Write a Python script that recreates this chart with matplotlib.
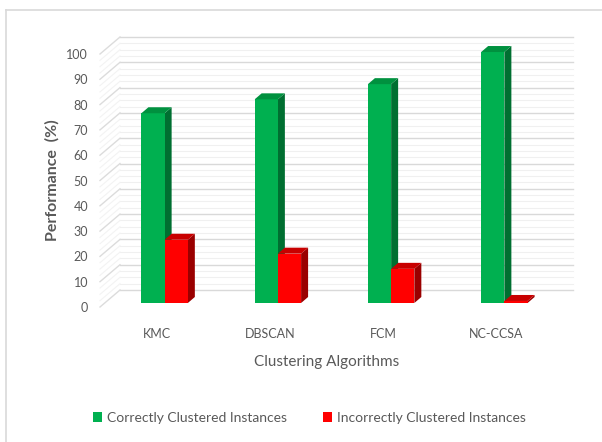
import matplotlib.pyplot as plt
from matplotlib.patches import Polygon, Patch
from matplotlib.lines import Line2D

algorithms = ['KMC', 'DBSCAN', 'FCM', 'NC-CCSA']
correct = [75, 80.5, 86.5, 99.2]
incorrect = [25, 19.5, 13.5, 0.8]
series_names = ['Correctly Clustered Instances', 'Incorrectly Clustered Instances']
y_ticks = list(range(0, 101, 10))

# face colours: front, top, side
greens = ('#00b050', '#00913f', '#006f31')
reds = ('#ff0000', '#c80000', '#9a0000')

plt.rcParams['font.family'] = ['Lato', 'DejaVu Sans']

W, H = 602, 442
fig = plt.figure(figsize=(W / 100, H / 100), dpi=100)

# figure border (only top and left edges visible in the original)
fig.add_artist(Line2D([6 / W, 1], [1 - 10 / H, 1 - 10 / H], transform=fig.transFigure, color='#d9d9d9', lw=1.2))
fig.add_artist(Line2D([6 / W, 6 / W], [0, 1 - 10 / H], transform=fig.transFigure, color='#d9d9d9', lw=1.2))

ax_w, ax_h = 453, 253
ax = fig.add_axes([100 / W, 1 - 307 / H, ax_w / W, ax_h / H])
ax.set_xlim(0, len(algorithms))
ax.set_ylim(0, 100)
ux = len(algorithms) / ax_w   # data units per pixel
uy = 100 / ax_h

# wall depth
DX, DY = 20 * ux, 17 * uy
n = len(algorithms)

# minor texture lines
for t in [v * 2.5 for v in range(41)]:
    if t % 10:
        ax.plot([DX, n + DX], [t + DY, t + DY], color='#f0f0f0', lw=0.8, clip_on=False, zorder=1)
        ax.plot([0, DX], [t, t + DY], color='#f3f3f3', lw=0.8, clip_on=False, zorder=1)

for t in y_ticks:
    ax.plot([DX, n + DX], [t + DY, t + DY], color='#d9d9d9', lw=1.0, clip_on=False, zorder=2)
    ax.plot([0, DX], [t, t + DY], color='#dcdcdc', lw=1.0, clip_on=False, zorder=2)

# bars
w = 0.205
bx, by = 8 * ux, 4 * uy
dx, dy = 7 * ux, 6 * uy
for i in range(n):
    for j, (vals, cols) in enumerate([(correct, greens), (incorrect, reds)]):
        v = vals[i]
        x0 = i + 0.5 - w + j * w + bx
        top = by + v
        ax.bar(x0, v, width=w, bottom=by, align='edge', color=cols[0], zorder=5 + j * 0.1, clip_on=False)
        ax.add_patch(Polygon([(x0, top), (x0 + w, top), (x0 + w + dx, top + dy), (x0 + dx, top + dy)],
                             closed=True, facecolor=cols[1], edgecolor='none', zorder=5 + j * 0.1, clip_on=False))
        ax.add_patch(Polygon([(x0 + w, by), (x0 + w + dx, by + dy), (x0 + w + dx, top + dy), (x0 + w, top)],
                             closed=True, facecolor=cols[2], edgecolor='none', zorder=5 + j * 0.1 - 0.05, clip_on=False))

for s in ax.spines.values():
    s.set_visible(False)
ax.set_facecolor('none')
ax.set_yticks(y_ticks)
ax.set_yticklabels([str(t) for t in y_ticks], fontsize=9, color='#595959')
ax.set_xticks([i + 0.5 for i in range(n)])
ax.set_xticklabels(algorithms, fontsize=9, color='#595959')
ax.tick_params(axis='y', length=0, pad=8.5)
ax.tick_params(axis='x', length=0, pad=15)

fig.text(327 / W, 1 - 362 / H, 'Clustering Algorithms', ha='center', va='center', fontsize=11, color='#595959')
fig.text(52 / W, 1 - 180 / H, 'Performance  (%)', ha='center', va='center', rotation=90,
         fontsize=11.5, fontweight='bold', color='#595959')

handles = [Patch(facecolor=greens[0]), Patch(facecolor=reds[0])]
fig.legend(handles, series_names, loc='center', bbox_to_anchor=(309 / W, 1 - 418 / H), ncol=2,
           frameon=False, fontsize=10, handlelength=0.7, handleheight=0.7, handletextpad=0.3,
           columnspacing=2.6, labelcolor='#595959')

fig.savefig('out.png', dpi=100)
